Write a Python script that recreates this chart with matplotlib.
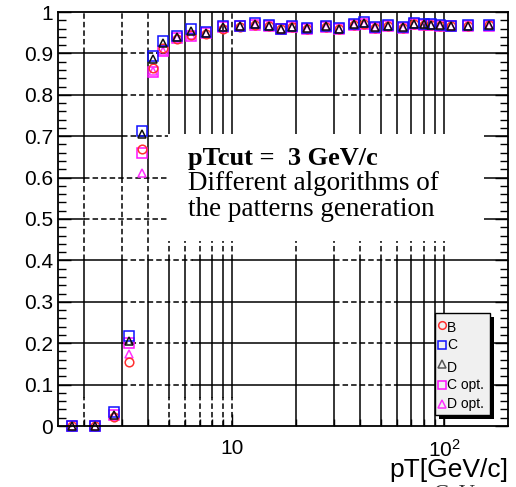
import matplotlib
matplotlib.use("Agg")
import matplotlib.pyplot as plt
from matplotlib.patches import Rectangle
from matplotlib.lines import Line2D
from matplotlib.ticker import FixedLocator, NullFormatter

# ---- data: trigger efficiency vs transverse momentum ----
pt = [1.75, 2.25, 2.75, 3.25, 3.75, 4.2, 4.7, 5.5, 6.35, 7.5, 9.0,
      10.9, 12.8, 14.9, 17.0, 19.0, 22.6, 27.5, 32.0, 37.6, 42.0,
      47.3, 54.5, 64.0, 72.0, 80.5, 87.0, 95.0, 108.0, 130.0, 163.0]

eff_B = [0.0, 0.0, 0.022, 0.155, 0.668, 0.865, 0.912, 0.935, 0.945, 0.948, 0.960,
         0.964, 0.968, 0.965, 0.958, 0.963, 0.960, 0.964, 0.959, 0.968, 0.972,
         0.962, 0.967, 0.962, 0.970, 0.968, 0.968, 0.967, 0.965, 0.967, 0.968]
eff_C = [0.0, 0.0, 0.033, 0.217, 0.713, 0.893, 0.930, 0.942, 0.958, 0.952, 0.965,
         0.967, 0.973, 0.968, 0.960, 0.965, 0.962, 0.966, 0.961, 0.971, 0.975,
         0.964, 0.968, 0.964, 0.973, 0.971, 0.970, 0.969, 0.967, 0.968, 0.969]
eff_D = [0.0, 0.0, 0.027, 0.205, 0.705, 0.886, 0.925, 0.940, 0.955, 0.950, 0.964,
         0.966, 0.971, 0.967, 0.959, 0.964, 0.961, 0.965, 0.960, 0.970, 0.974,
         0.963, 0.967, 0.963, 0.972, 0.970, 0.969, 0.968, 0.966, 0.967, 0.968]
eff_Copt = [0.0, 0.0, 0.027, 0.200, 0.660, 0.855, 0.905, 0.937, 0.943, 0.950, 0.963,
            0.965, 0.969, 0.966, 0.958, 0.963, 0.960, 0.964, 0.959, 0.969, 0.972,
            0.962, 0.967, 0.962, 0.971, 0.969, 0.968, 0.967, 0.965, 0.966, 0.967]
eff_Dopt = [0.0, 0.0, 0.025, 0.175, 0.612, 0.858, 0.905, 0.937, 0.945, 0.950, 0.963,
            0.965, 0.969, 0.966, 0.958, 0.963, 0.960, 0.964, 0.959, 0.969, 0.972,
            0.962, 0.967, 0.962, 0.971, 0.969, 0.968, 0.967, 0.965, 0.966, 0.967]

series_labels = ["B", "C", "D", "C opt.", "D opt."]
y_tick_values = [0.0, 0.1, 0.2, 0.3, 0.4, 0.5, 0.6, 0.7, 0.8, 0.9, 1.0]
y_tick_labels = ["0", "0.1", "0.2", "0.3", "0.4", "0.5", "0.6", "0.7", "0.8", "0.9", "1"]
x_tick_values = [10, 100]
x_tick_labels = ["10", r"$\mathregular{10^{2}}$"]

W, H = 516, 487
fig = plt.figure(figsize=(W / 100, H / 100), dpi=100)
plt.rcParams["mathtext.fontset"] = "custom"
plt.rcParams["mathtext.rm"] = "Liberation Sans"

def fx(px):
    return px / W

def fy(py):
    return 1 - py / H

L, R, T, B = 58, 508, 12, 426
ax = fig.add_axes([fx(L), fy(B), fx(R) - fx(L), fy(T) - fy(B)])
ax.set_xscale("log")
ax.set_xlim(1.5, 200)
ax.set_ylim(0, 1)

# ---- grid: solid lines with dashed stretches ----
GRID_LW = 1.1
DASH = (0, (3.6, 2.0))

def draw_segments(fixed, lo, hi, dashed, vertical):
    pos = lo
    pieces = []
    for a, b in sorted(dashed):
        if a > pos:
            pieces.append((pos, a, "-"))
        pieces.append((a, b, DASH))
        pos = b
    if pos < hi:
        pieces.append((pos, hi, "-"))
    for a, b, ls in pieces:
        if vertical:
            ax.plot([fixed, fixed], [a, b], color="k", lw=GRID_LW, ls=ls, zorder=1)
        else:
            ax.plot([a, b], [fixed, fixed], color="k", lw=GRID_LW, ls=ls, zorder=1)

for xv in [2, 3, 4, 5, 6, 7, 8, 9, 10, 20, 30, 40, 50, 60, 70, 80, 90, 100]:
    if xv in (2, 10):
        bands = [(0, 0.07), (0.4, 0.6), (0.9, 1.0)]
    elif xv in (3, 4):
        bands = [(0.4, 0.6), (0.9, 1.0)]
    elif xv < 10:
        bands = [(0, 0.07), (0.4, 0.6)]
    else:
        bands = [(0.4, 0.6)]
    draw_segments(xv, 0, 1, bands, True)

for yv in [0.1, 0.2, 0.3, 0.4, 0.5, 0.6, 0.7, 0.8, 0.9]:
    if yv <= 0.4:
        bands = [(3, 6.5), (30, 60)]
    elif yv <= 0.6:
        bands = [(2, 5)]
    elif yv < 0.75:
        bands = [(3, 5)]
    elif yv < 0.85:
        bands = [(3, 5), (30, 60)]
    else:
        bands = [(3, 4.4), (30, 60)]
    draw_segments(yv, 1.5, 200, bands, False)

# ---- text panel ----
ax.add_patch(Rectangle((4.95, 0.447), 154 - 4.95, 0.7065 - 0.447,
                       facecolor="white", edgecolor="none", zorder=2))
serif = "Liberation Serif"
fig.text(fx(188), fy(165), "pTcut =  3 GeV/c", fontsize=19, fontweight="bold",
         family=serif, ha="left", va="baseline")
fig.text(fx(188), fy(190), "Different algorithms of", fontsize=19.5,
         family=serif, ha="left", va="baseline")
fig.text(fx(188), fy(216), "the patterns generation", fontsize=19.5,
         family=serif, ha="left", va="baseline")

# ---- markers ----
styles = {
    "B": dict(marker="o", color="#ff3030", ms=6.2),
    "C": dict(marker="s", color="#1010ff", ms=6.6),
    "D": dict(marker="^", color="#111111", ms=5.4),
    "C opt.": dict(marker="s", color="#ff10ff", ms=6.6),
    "D opt.": dict(marker="^", color="#ff30ff", ms=6.4),
}
values = {"B": eff_B, "C": eff_C, "D": eff_D, "C opt.": eff_Copt, "D opt.": eff_Dopt}
for name in ["C opt.", "D opt.", "B", "C", "D"]:
    st = styles[name]
    ax.plot(pt, values[name], ls="none", marker=st["marker"], ms=st["ms"],
            mfc="none", mec=st["color"], mew=1.1, zorder=3, clip_on=False)

# ---- axes, ticks ----
for sp in ax.spines.values():
    sp.set_linewidth(1.3)
    sp.set_zorder(4)

ax.yaxis.set_major_locator(FixedLocator(y_tick_values))
ax.set_yticklabels(y_tick_labels)
ax.yaxis.set_minor_locator(FixedLocator([i * 0.02 for i in range(51)]))
ax.set_xticks(x_tick_values, labels=x_tick_labels)
ax.xaxis.set_minor_locator(FixedLocator([2, 3, 4, 5, 6, 7, 8, 9, 20, 30, 40, 50, 60, 70, 80, 90]))
ax.xaxis.set_minor_formatter(NullFormatter())
ax.tick_params(axis="y", which="major", direction="in", length=9.5, width=1.0,
               left=True, right=True, labelsize=15, pad=3.5)
ax.tick_params(axis="y", which="minor", direction="in", length=5.8, width=1.0,
               left=True, right=True)
ax.tick_params(axis="x", which="major", direction="in", length=9, width=1.0,
               bottom=True, top=False, labelsize=15, pad=9)
ax.tick_params(axis="x", which="minor", direction="in", length=5, width=1.0,
               bottom=True, top=False)
for lab in ax.get_yticklabels() + ax.get_xticklabels():
    lab.set_family("Liberation Sans")

fig.text(fx(508), fy(477), "pT[GeV/c]", fontsize=19, family="Liberation Sans",
         ha="right", va="baseline")
fig.text(fx(433), fy(499), "GeV", fontsize=16, family=serif, ha="left",
         va="baseline", color="#333333")

# ---- legend box with shadow ----
lx0, ly0, lx1, ly1 = 435, 313, 490, 415
fig.add_artist(Rectangle((fx(lx0 + 4), fy(ly1 + 4)), fx(lx1) - fx(lx0), fy(ly0) - fy(ly1),
                         transform=fig.transFigure, facecolor="black", edgecolor="none",
                         zorder=5))
fig.add_artist(Rectangle((fx(lx0), fy(ly1)), fx(lx1) - fx(lx0), fy(ly0) - fy(ly1),
                         transform=fig.transFigure, facecolor="#f0f0f0", edgecolor="black",
                         lw=1.0, zorder=6))
legend_colors = {"B": "#ff3030", "C": "#1010ff", "D": "#555555",
                 "C opt.": "#ff10ff", "D opt.": "#ff30ff"}
entry_y = [325, 345, 364, 385, 404]
text_dy = [3, 0, 4, 0, 0]
for name, ey, dy in zip(series_labels, entry_y, text_dy):
    st = styles[name]
    fig.add_artist(Line2D([fx(442)], [fy(ey)], transform=fig.transFigure,
                          marker=st["marker"], ms=5.5, mfc="none",
                          mec=legend_colors[name], mew=1.1, ls="none", zorder=7))
    fig.text(fx(447), fy(ey + dy), name, fontsize=10, family="Liberation Sans",
             ha="left", va="center", zorder=7)

fig.savefig("out.png", dpi=100)
